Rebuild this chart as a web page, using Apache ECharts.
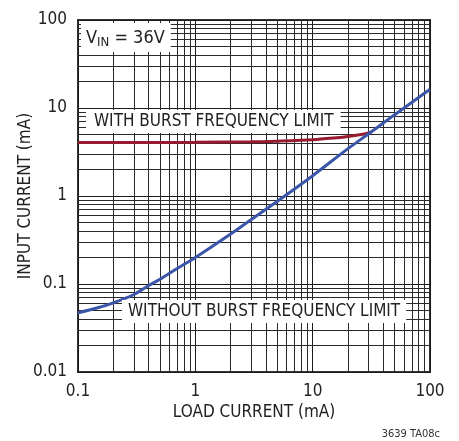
<!DOCTYPE html>
<html><head><meta charset="utf-8">
<script src="https://cdn.jsdelivr.net/npm/echarts@6/dist/echarts.min.js"></script>
<style>html,body{margin:0;padding:0;background:#fff}#c{width:459px;height:441px}</style>
</head><body><div id="c"></div>
<script>
var FONT = "'Liberation Sans Narrow','Arial Narrow','DejaVu Sans Condensed',sans-serif";
var xTickLabels = ['0.1', '1', '10', '100'];
var yTickLabels = ['0.01', '0.1', '1', '10', '100'];
var withBurstX = [0.1, 0.3, 1, 3, 5, 10, 15, 20, 25, 30, 32];
var withBurstY = [4.05, 4.06, 4.08, 4.13, 4.2, 4.35, 4.55, 4.75, 4.97, 5.2, 5.4];
var withoutBurstX = [0.1, 0.15, 0.2, 0.3, 0.4, 0.5, 0.7, 1, 2, 3, 5, 10, 20, 30, 50, 100];
var withoutBurstY = [0.047, 0.054, 0.061, 0.076, 0.096, 0.113, 0.15, 0.2, 0.37, 0.54, 0.87, 1.7, 3.45, 5.1, 8.4, 16.3];
var xMinor = [];
[0.1, 1, 10].forEach(function (d) { for (var k = 2; k <= 9; k++) xMinor.push(+(d * k).toPrecision(3)); });
var yMinor = [];
[0.01, 0.1, 1, 10].forEach(function (d) { for (var k = 2; k <= 9; k++) yMinor.push(+(d * k).toPrecision(3)); });

function pair(xs, ys) { return xs.map(function (x, i) { return [x, ys[i]]; }); }

var chart = echarts.init(document.getElementById('c'));
var gridLine = { color: '#2a2a2a', width: 1, type: 'solid' };
chart.setOption({
  animation: false,
  grid: { left: 78, right: 29, top: 20, bottom: 69, show: true, borderColor: '#333', borderWidth: 2, backgroundColor: 'transparent' },
  xAxis: {
    type: 'log', logBase: 10, min: 0.1, max: 100,
    name: 'LOAD CURRENT (mA)', nameLocation: 'middle', nameGap: 32, nameMoveOverlap: false,
    nameTextStyle: { fontFamily: FONT, fontSize: 17, color: '#222' },
    axisLine: { show: false }, axisTick: { show: false },
    axisLabel: { margin: 11, fontFamily: FONT, fontSize: 17, color: '#222',
      formatter: function (v) { return xTickLabels[Math.round(Math.log10(v)) + 1]; } },
    splitLine: { show: true, lineStyle: { color: '#1a1a1a', width: 1 } }
  },
  yAxis: {
    type: 'log', logBase: 10, min: 0.01, max: 100,
    name: 'INPUT CURRENT (mA)', nameLocation: 'middle', nameGap: 44, nameMoveOverlap: false,
    nameTextStyle: { fontFamily: FONT, fontSize: 17, color: '#222' },
    axisLine: { show: false }, axisTick: { show: false },
    axisLabel: { margin: 11, fontFamily: FONT, fontSize: 17, color: '#222',
      formatter: function (v) { return yTickLabels[Math.round(Math.log10(v)) + 2]; } },
    splitLine: { show: true, lineStyle: { color: '#1a1a1a', width: 1 } }
  },
  series: [
    {
      type: 'line', data: [], silent: true,
      markLine: {
        silent: true, symbol: 'none', label: { show: false }, animation: false,
        lineStyle: gridLine,
        data: xMinor.map(function (v) { return { xAxis: v }; }).concat(yMinor.map(function (v) { return { yAxis: v }; }))
      }
    },
    {
      name: 'WITH BURST FREQUENCY LIMIT', type: 'line', data: pair(withBurstX, withBurstY),
      smooth: 0.3, showSymbol: false, z: 5,
      lineStyle: { color: '#971a2f', width: 3 }
    },
    {
      name: 'WITHOUT BURST FREQUENCY LIMIT', type: 'line', data: pair(withoutBurstX, withoutBurstY),
      smooth: 0.3, showSymbol: false, z: 6,
      lineStyle: { color: '#3b56a8', width: 3 }
    }
  ],
  graphic: [
    { type: 'text', left: 81, top: 23, z: 100,
      style: { text: '{a|V}{b|IN}{a| = 36V}', backgroundColor: '#fff', padding: [3, 6, 2, 5],
        rich: { a: { fontFamily: FONT, fontSize: 18, fill: '#222', lineHeight: 24 },
                b: { fontFamily: FONT, fontSize: 13, fill: '#222', lineHeight: 24, padding: [9, 0, 0, 0] } } } },
    { type: 'text', left: 86, top: 110, z: 100,
      style: { text: 'WITH BURST FREQUENCY LIMIT', backgroundColor: '#fff', padding: [3, 7, 3, 8],
        fontFamily: FONT, fontSize: 17, fill: '#222' } },
    { type: 'text', left: 122, top: 300, z: 100,
      style: { text: 'WITHOUT BURST FREQUENCY LIMIT', backgroundColor: '#fff', padding: [3, 6, 3, 6],
        fontFamily: FONT, fontSize: 17, fill: '#222' } },
    { type: 'text', right: 19, top: 429, z: 100,
      style: { text: '3639 TA08c', fontFamily: FONT, fontSize: 11, fill: '#333' } }
  ]
});
</script></body></html>
